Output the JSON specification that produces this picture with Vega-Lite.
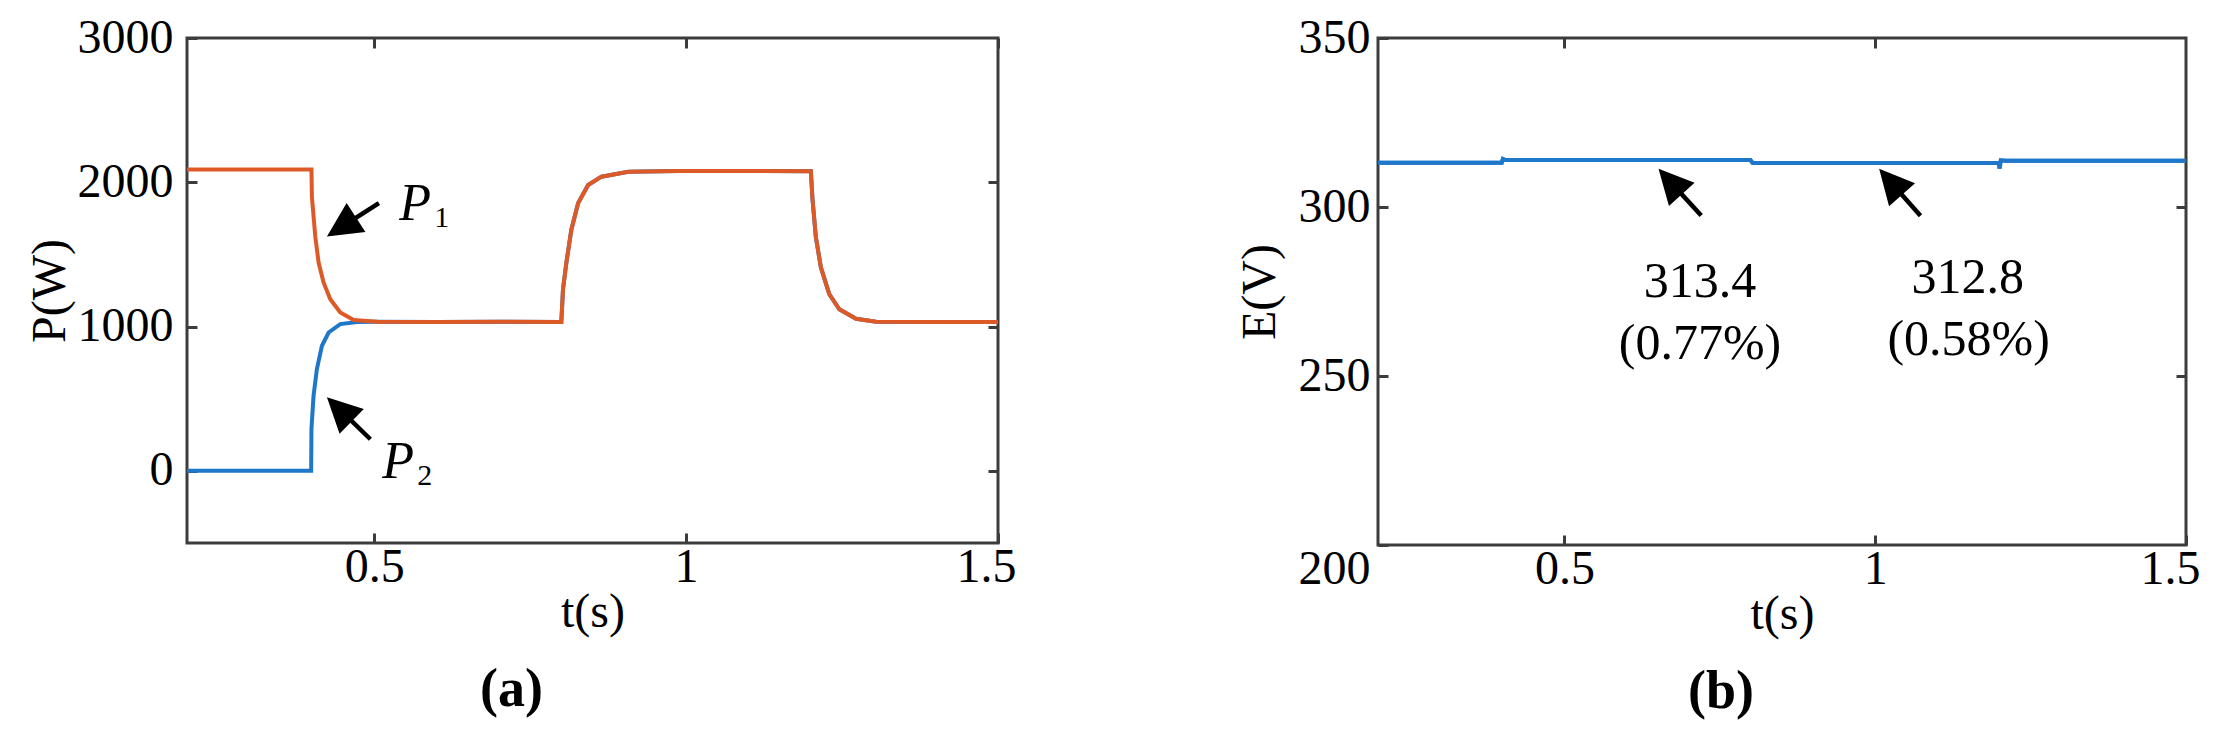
{
  "$schema": "https://vega.github.io/schema/vega-lite/v6.json",
  "background": "white",
  "padding": {"left": 24, "top": 12, "right": 0, "bottom": 0},
  "config": {
    "font": "Liberation Serif",
    "view": {"stroke": "#3c3c3c", "strokeWidth": 3},
    "axis": {
      "labelFont": "Liberation Serif", "labelFontSize": 48, "labelColor": "black",
      "titleFont": "Liberation Serif", "titleFontSize": 48, "titleFontWeight": "normal", "titleColor": "black",
      "domain": false, "grid": false, "tickColor": "#3c3c3c", "tickWidth": 3, "tickSize": -10, "labelFlush": false
    },
    "text": {"font": "Liberation Serif", "color": "black"}
  },
  "datasets": {
    "power": [
      {"s": "P2", "t": 0.2, "P": 0}, {"s": "P2", "t": 0.3, "P": 0}, {"s": "P2", "t": 0.399, "P": 0},
      {"s": "P2", "t": 0.3995, "P": 293}, {"s": "P2", "t": 0.4029, "P": 522}, {"s": "P2", "t": 0.4082, "P": 706},
      {"s": "P2", "t": 0.4163, "P": 867}, {"s": "P2", "t": 0.427, "P": 959}, {"s": "P2", "t": 0.4457, "P": 1017},
      {"s": "P2", "t": 0.4726, "P": 1032}, {"s": "P2", "t": 0.5, "P": 1033}, {"s": "P2", "t": 0.6, "P": 1032},
      {"s": "P2", "t": 0.7, "P": 1033}, {"s": "P2", "t": 0.8, "P": 1032}, {"s": "P2", "t": 0.8027, "P": 1258},
      {"s": "P2", "t": 0.8081, "P": 1442}, {"s": "P2", "t": 0.8161, "P": 1671}, {"s": "P2", "t": 0.8269, "P": 1855},
      {"s": "P2", "t": 0.843, "P": 1981}, {"s": "P2", "t": 0.8644, "P": 2039}, {"s": "P2", "t": 0.9074, "P": 2073},
      {"s": "P2", "t": 0.988, "P": 2078}, {"s": "P2", "t": 1.1, "P": 2078}, {"s": "P2", "t": 1.2, "P": 2076},
      {"s": "P2", "t": 1.2026, "P": 1885}, {"s": "P2", "t": 1.208, "P": 1621}, {"s": "P2", "t": 1.2161, "P": 1410},
      {"s": "P2", "t": 1.2295, "P": 1225}, {"s": "P2", "t": 1.2456, "P": 1120}, {"s": "P2", "t": 1.2725, "P": 1054},
      {"s": "P2", "t": 1.3047, "P": 1033}, {"s": "P2", "t": 1.4, "P": 1032}, {"s": "P2", "t": 1.5, "P": 1032},
      {"s": "P1", "t": 0.2, "P": 2088}, {"s": "P1", "t": 0.3, "P": 2088}, {"s": "P1", "t": 0.3995, "P": 2088},
      {"s": "P1", "t": 0.4002, "P": 1901}, {"s": "P1", "t": 0.4056, "P": 1625}, {"s": "P1", "t": 0.411, "P": 1442},
      {"s": "P1", "t": 0.419, "P": 1304}, {"s": "P1", "t": 0.4297, "P": 1189}, {"s": "P1", "t": 0.4457, "P": 1097},
      {"s": "P1", "t": 0.4673, "P": 1046}, {"s": "P1", "t": 0.505, "P": 1033}, {"s": "P1", "t": 0.6, "P": 1032},
      {"s": "P1", "t": 0.7, "P": 1033}, {"s": "P1", "t": 0.8, "P": 1032}, {"s": "P1", "t": 0.8027, "P": 1258},
      {"s": "P1", "t": 0.8081, "P": 1442}, {"s": "P1", "t": 0.8161, "P": 1671}, {"s": "P1", "t": 0.8269, "P": 1855},
      {"s": "P1", "t": 0.843, "P": 1981}, {"s": "P1", "t": 0.8644, "P": 2039}, {"s": "P1", "t": 0.9074, "P": 2073},
      {"s": "P1", "t": 0.988, "P": 2078}, {"s": "P1", "t": 1.1, "P": 2078}, {"s": "P1", "t": 1.2, "P": 2076},
      {"s": "P1", "t": 1.2026, "P": 1885}, {"s": "P1", "t": 1.208, "P": 1621}, {"s": "P1", "t": 1.2161, "P": 1410},
      {"s": "P1", "t": 1.2295, "P": 1225}, {"s": "P1", "t": 1.2456, "P": 1120}, {"s": "P1", "t": 1.2725, "P": 1054},
      {"s": "P1", "t": 1.3047, "P": 1033}, {"s": "P1", "t": 1.4, "P": 1032}, {"s": "P1", "t": 1.5, "P": 1032}
    ],
    "arrowsA": [
      {"id": "P1", "tx": 0.5076, "ty": 1855, "nx": 0.4459, "ny": 1685, "hx": 0.4243, "hy": 1625},
      {"id": "P2", "tx": 0.494, "ty": 219, "nx": 0.4427, "ny": 434, "hx": 0.4243, "hy": 511}
    ],
    "labelsA": [
      {"t": 0.5403, "P": 1740, "main": "P", "sub": "1"},
      {"t": 0.5129, "P": -52, "main": "P", "sub": "2"}
    ],
    "volt": [
      {"t": 0.2, "E": 313.1}, {"t": 0.399, "E": 313.1}, {"t": 0.401, "E": 314.2}, {"t": 0.405, "E": 313.9},
      {"t": 0.6, "E": 313.9}, {"t": 0.799, "E": 313.9}, {"t": 0.803, "E": 313.0}, {"t": 1.0, "E": 313.0},
      {"t": 1.199, "E": 313.0}, {"t": 1.2, "E": 311.4}, {"t": 1.202, "E": 313.8}, {"t": 1.21, "E": 313.7},
      {"t": 1.5, "E": 313.7}
    ],
    "arrowsB": [
      {"id": "A1", "tx": 0.72, "ty": 297.5, "nx": 0.6686, "ny": 307.8, "hx": 0.6513, "hy": 311.3},
      {"id": "A2", "tx": 1.0728, "ty": 297.4, "nx": 1.0233, "ny": 307.7, "hx": 1.0063, "hy": 311.3}
    ],
    "labelsB": [
      {"t": 0.718, "E": 273.4, "text": "313.4"},
      {"t": 0.718, "E": 255.1, "text": "(0.77%)"},
      {"t": 1.149, "E": 274.5, "text": "312.8"},
      {"t": 1.1503, "E": 256.3, "text": "(0.58%)"}
    ]
  },
  "spacing": 216,
  "hconcat": [
    {
      "width": 811, "height": 505,
      "title": {"text": "(a)", "orient": "bottom", "anchor": "middle", "font": "Liberation Serif", "fontSize": 54, "fontWeight": "bold", "color": "black", "dx": -81, "offset": 27},
      "layer": [
        {
          "data": {"name": "power"},
          "transform": [{"filter": "datum.s === 'P2'"}],
          "mark": {"type": "line", "color": "#1f77c9", "strokeWidth": 4},
          "encoding": {
            "x": {"field": "t", "type": "quantitative", "scale": {"domain": [0.2, 1.5], "nice": false, "zero": false},
                  "axis": {"orient": "bottom", "values": [0.5, 1, 1.5], "format": "~g", "title": "t(s)", "labelPadding": 10, "titlePadding": -3,
                           "labelOffset": {"condition": {"test": "datum.value == 1.5", "value": -12}, "value": 0}}},
            "y": {"field": "P", "type": "quantitative", "scale": {"domain": [-500, 3000], "nice": false, "zero": false},
                  "axis": {"orient": "left", "values": [0, 1000, 2000, 3000], "format": "d", "title": "P(W)", "labelPadding": 24, "titlePadding": 3}}
          }
        },
        {
          "data": {"name": "power"},
          "transform": [{"filter": "datum.s === 'P1'"}],
          "mark": {"type": "line", "color": "#dd5a26", "strokeWidth": 4},
          "encoding": {
            "x": {"field": "t", "type": "quantitative", "axis": {"orient": "top", "values": [0.5, 1, 1.5], "labels": false, "title": null}},
            "y": {"field": "P", "type": "quantitative", "axis": {"orient": "right", "values": [0, 1000, 2000], "labels": false, "title": null}}
          }
        },
        {
          "data": {"name": "arrowsA"},
          "mark": {"type": "rule", "color": "black", "strokeWidth": 4.5},
          "encoding": {
            "x": {"field": "tx", "type": "quantitative", "axis": null},
            "y": {"field": "ty", "type": "quantitative", "axis": null},
            "x2": {"field": "nx"}, "y2": {"field": "ny"}
          }
        },
        {
          "data": {"name": "arrowsA"},
          "transform": [{"filter": "datum.id === 'P1'"}],
          "mark": {"type": "point", "shape": "M0,0L1,2L-1,2Z", "filled": true, "color": "black", "opacity": 1, "size": 1200, "strokeWidth": 0, "angle": 237.1},
          "encoding": {
            "x": {"field": "hx", "type": "quantitative", "axis": null},
            "y": {"field": "hy", "type": "quantitative", "axis": null}
          }
        },
        {
          "data": {"name": "arrowsA"},
          "transform": [{"filter": "datum.id === 'P2'"}],
          "mark": {"type": "point", "shape": "M0,0L1,2L-1,2Z", "filled": true, "color": "black", "opacity": 1, "size": 1200, "strokeWidth": 0, "angle": 314.4},
          "encoding": {
            "x": {"field": "hx", "type": "quantitative", "axis": null},
            "y": {"field": "hy", "type": "quantitative", "axis": null}
          }
        },
        {
          "data": {"name": "labelsA"},
          "mark": {"type": "text", "font": "Liberation Serif", "fontStyle": "italic", "fontSize": 52, "align": "left", "baseline": "alphabetic", "color": "black"},
          "encoding": {
            "x": {"field": "t", "type": "quantitative", "axis": null},
            "y": {"field": "P", "type": "quantitative", "axis": null},
            "text": {"field": "main"}
          }
        },
        {
          "data": {"name": "labelsA"},
          "mark": {"type": "text", "font": "Liberation Serif", "fontSize": 30, "align": "left", "baseline": "alphabetic", "dx": 35, "dy": 7, "color": "black"},
          "encoding": {
            "x": {"field": "t", "type": "quantitative", "axis": null},
            "y": {"field": "P", "type": "quantitative", "axis": null},
            "text": {"field": "sub"}
          }
        }
      ],
      "resolve": {"axis": {"x": "independent", "y": "independent"}}
    },
    {
      "width": 808, "height": 507,
      "title": {"text": "(b)", "orient": "bottom", "anchor": "middle", "font": "Liberation Serif", "fontSize": 54, "fontWeight": "bold", "color": "black", "dx": -61, "offset": 27},
      "layer": [
        {
          "data": {"name": "volt"},
          "mark": {"type": "line", "color": "#1f77c9", "strokeWidth": 4},
          "encoding": {
            "x": {"field": "t", "type": "quantitative", "scale": {"domain": [0.2, 1.5], "nice": false, "zero": false},
                  "axis": {"orient": "bottom", "values": [0.5, 1, 1.5], "format": "~g", "title": "t(s)", "labelPadding": 10, "titlePadding": -3,
                           "labelOffset": {"condition": {"test": "datum.value == 1.5", "value": -16}, "value": 0}}},
            "y": {"field": "E", "type": "quantitative", "scale": {"domain": [200, 350], "nice": false, "zero": false},
                  "axis": {"orient": "left", "values": [200, 250, 300, 350], "format": "d", "title": "E(V)", "labelPadding": 18, "titlePadding": 14,
                           "labelBaseline": {"condition": {"test": "datum.value == 200", "value": "top"}, "value": "middle"}}}
          }
        },
        {
          "data": {"name": "volt"},
          "mark": {"type": "line", "color": "#1f77c9", "strokeWidth": 4},
          "encoding": {
            "x": {"field": "t", "type": "quantitative", "axis": {"orient": "top", "values": [0.5, 1], "labels": false, "title": null}},
            "y": {"field": "E", "type": "quantitative", "axis": {"orient": "right", "values": [250, 300], "labels": false, "title": null}}
          }
        },
        {
          "data": {"name": "arrowsB"},
          "mark": {"type": "rule", "color": "black", "strokeWidth": 4.5},
          "encoding": {
            "x": {"field": "tx", "type": "quantitative", "axis": null},
            "y": {"field": "ty", "type": "quantitative", "axis": null},
            "x2": {"field": "nx"}, "y2": {"field": "ny"}
          }
        },
        {
          "data": {"name": "arrowsB"},
          "transform": [{"filter": "datum.id === 'A1'"}],
          "mark": {"type": "point", "shape": "M0,0L1,2L-1,2Z", "filled": true, "color": "black", "opacity": 1, "size": 1200, "strokeWidth": 0, "angle": 317.8},
          "encoding": {
            "x": {"field": "hx", "type": "quantitative", "axis": null},
            "y": {"field": "hy", "type": "quantitative", "axis": null}
          }
        },
        {
          "data": {"name": "arrowsB"},
          "transform": [{"filter": "datum.id === 'A2'"}],
          "mark": {"type": "point", "shape": "M0,0L1,2L-1,2Z", "filled": true, "color": "black", "opacity": 1, "size": 1200, "strokeWidth": 0, "angle": 318.6},
          "encoding": {
            "x": {"field": "hx", "type": "quantitative", "axis": null},
            "y": {"field": "hy", "type": "quantitative", "axis": null}
          }
        },
        {
          "data": {"name": "labelsB"},
          "mark": {"type": "text", "font": "Liberation Serif", "fontSize": 50, "align": "center", "baseline": "alphabetic", "color": "black"},
          "encoding": {
            "x": {"field": "t", "type": "quantitative", "axis": null},
            "y": {"field": "E", "type": "quantitative", "axis": null},
            "text": {"field": "text"}
          }
        }
      ],
      "resolve": {"axis": {"x": "independent", "y": "independent"}}
    }
  ]
}
